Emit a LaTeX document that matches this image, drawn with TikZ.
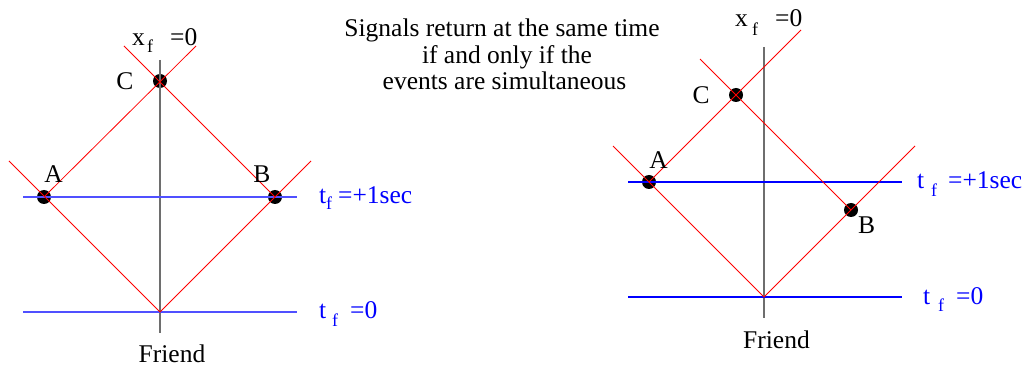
\documentclass[tikz,border=0pt]{standalone}
\usepackage{fontspec}
\setmainfont{Liberation Serif}
\newcommand\subf{\fontsize{18}{18}\selectfont}
% main letter, offset to subscript, drop, offset to rest, rest
\newcommand\sublbl[5]{\rlap{#1}\hspace{#2pt}\rlap{\raisebox{-#3pt}{\subf f}}\hspace{#4pt}#5}
\definecolor{lblue}{RGB}{80,80,255}
\definecolor{pblue}{RGB}{0,0,255}
\definecolor{axisgray}{RGB}{110,110,110}
\tikzset{
  txt/.style={inner sep=0pt, font=\rmfamily\fontsize{25.5}{28}\selectfont},
  btxt/.style={txt, text=pblue, anchor=base west},
  xtxt/.style={txt, anchor=base west},
  event/.style={circle, fill=black, minimum size=14pt, inner sep=0pt},
  signal/.style={draw=red, line width=0.8pt},
  tline/.style={draw=lblue, line width=1.4pt},
  tline2/.style={draw=pblue, line width=1.2pt},
  worldline/.style={draw=axisgray, line width=1.6pt},
}
\begin{document}
\begin{tikzpicture}[x=1pt,y=-1pt]
\useasboundingbox (0,0) rectangle (1026,366);
% ---------- left diagram ----------
\coordinate (O1) at (160,312);
\coordinate (L1) at (9,161);
\coordinate (R1) at (311,161);
\coordinate (AE1) at (196,46);
\coordinate (BE1) at (124,46);
\coordinate (Vt1) at (160,60);
\coordinate (Vb1) at (160,333);
\coordinate (T1a) at (23,197);
\coordinate (T1b) at (297,197);
\coordinate (Z1a) at (23,312);
\coordinate (Z1b) at (297,312);
\node[event] (A1) at (44,197) {};
\node[event] (B1) at (275,197) {};
\node[event] (C1) at (160,81) {};
\draw[worldline] (Vt1) -- (Vb1);
\draw[tline] (T1a) -- (T1b);
\draw[tline] (Z1a) -- (Z1b);
\draw[signal] (L1) -- (O1) -- (R1);
\draw[signal] (A1.center) -- (AE1);
\draw[signal] (B1.center) -- (BE1);
\node[txt] (lA1) at (53.5,174.5) {A};
\node[txt] (lB1) at (262,174.5) {B};
\node[txt] (lC1) at (125,81) {C};
\node[txt, anchor=base] (fr1) at (172,362) {Friend};
\node[xtxt] (x1) at (132,46) {\sublbl{x}{15}{7}{23}{=0}};
\node[btxt] (t1) at (319,204) {\sublbl{t}{7}{6}{12}{=+1sec}};
\node[btxt] (z1) at (319,318) {\sublbl{t}{13}{9}{18}{=0}};
% ---------- title ----------
\node[txt, anchor=base] (h1) at (502,37) {Signals return at the same time};
\node[txt, anchor=base] (h2) at (507,64) {if and only if the};
\node[txt, anchor=base] (h3) at (504.5,90) {events are simultaneous};
% ---------- right diagram ----------
\coordinate (O2) at (764,297);
\coordinate (L2) at (613,146);
\coordinate (R2) at (915,146);
\coordinate (AE2) at (801,30);
\coordinate (BE2) at (700,59);
\coordinate (Vt2) at (764,47);
\coordinate (Vb2) at (764,318);
\coordinate (T2a) at (628,182);
\coordinate (T2b) at (902,182);
\coordinate (Z2a) at (628,297);
\coordinate (Z2b) at (902,297);
\node[event] (A2) at (649,182) {};
\node[event] (B2) at (851,210) {};
\node[event] (C2) at (736,95) {};
\draw[worldline] (Vt2) -- (Vb2);
\draw[tline2] (T2a) -- (T2b);
\draw[tline2] (Z2a) -- (Z2b);
\draw[signal] (L2) -- (O2) -- (R2);
\draw[signal] (A2.center) -- (AE2);
\draw[signal] (B2.center) -- (BE2);
\node[txt] (lA2) at (658.5,160) {A};
\node[txt] (lB2) at (866.5,225) {B};
\node[txt] (lC2) at (701,95) {C};
\node[txt, anchor=base] (fr2) at (776.5,348) {Friend};
\node[xtxt] (x2) at (735,27) {\sublbl{x}{17}{9}{23}{=0}};
\node[btxt] (t2) at (917,189) {\sublbl{t}{14}{8}{17}{=+1sec}};
\node[btxt] (z2) at (923,305) {\sublbl{t}{15}{7}{18}{=0}};
\end{tikzpicture}
\end{document}
